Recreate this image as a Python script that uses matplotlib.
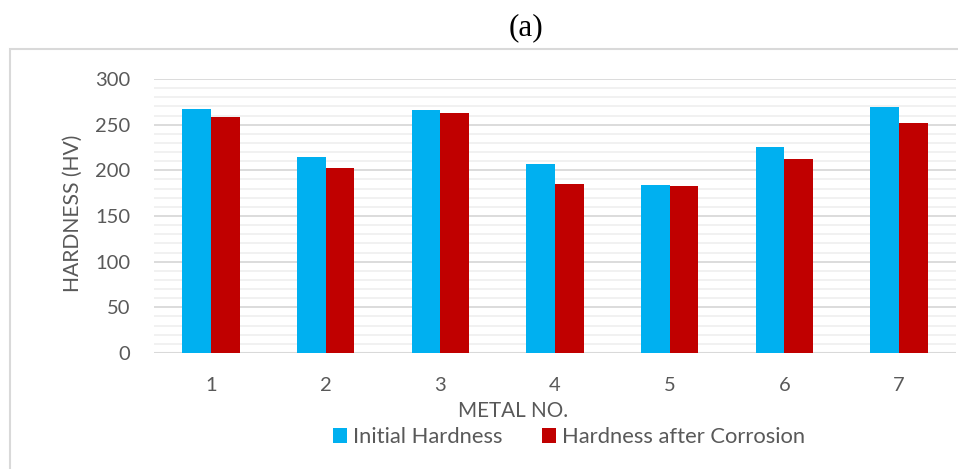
import numpy as np
import matplotlib.pyplot as plt
from matplotlib.patches import Rectangle
from matplotlib.ticker import MultipleLocator

metals = ["1", "2", "3", "4", "5", "6", "7"]
initial = [267, 215, 266, 207, 184, 225, 269]
after_corr = [258, 203, 263, 185, 183, 212, 252]

blue = "#00B0F0"
red = "#C00000"
txt = "#595959"

plt.rcParams['font.family'] = ['Lato', 'DejaVu Sans']

fig = plt.figure(figsize=(9.58, 4.69), dpi=100)
ax = fig.add_axes([153.7/958, 1 - 353/469, (956.3 - 153.7)/958, (353 - 79)/469])

x = np.arange(len(metals))
w = 0.25
ax.bar(x - w/2, initial, w, color=blue, label="Initial Hardness", zorder=3)
ax.bar(x + w/2, after_corr, w, color=red, label="Hardness after Corrosion", zorder=3)

ax.set_xlim(-0.5, len(metals) - 0.5)
ax.set_ylim(0, 300)
ax.yaxis.set_major_locator(MultipleLocator(50))
ax.yaxis.set_minor_locator(MultipleLocator(10))
ax.grid(axis='y', which='major', color='#D9D9D9', lw=1.3, zorder=0)
ax.grid(axis='y', which='minor', color='#F0F0F0', lw=1.3, zorder=0)
for s in ax.spines.values():
    s.set_visible(False)
ax.axhline(0, color='#D9D9D9', lw=1.5, zorder=2)

ax.set_xticks(x)
ax.set_xticklabels(metals)
ax.tick_params(axis='both', which='both', length=0, labelsize=14.5, labelcolor=txt)
ax.tick_params(axis='y', pad=17)
ax.tick_params(axis='x', pad=17)

fig.text(73/958, 1 - 213/469, "HARDNESS (HV)", rotation=90, ha='center', va='center',
         fontsize=15.2, color=txt)
fig.text(513.5/958, 1 - 411/469, "METAL NO.", ha='center', va='center', fontsize=14.9, color=txt)

leg = fig.legend(loc='center', bbox_to_anchor=(569/958, 1 - 437/469), ncol=2, frameon=False,
                 fontsize=15.8, handlelength=0.64, handleheight=0.64, handletextpad=0.27,
                 columnspacing=1.78, borderpad=0)
for t in leg.get_texts():
    t.set_color(txt)

fig.text(526.5/958, 1 - 28/469, "(a)", ha='center', va='center', fontsize=22.5,
         family='Liberation Serif', color='black')

fig.add_artist(Rectangle((10/958, -0.05), 1.0, 1 - 49.5/469 + 0.05, transform=fig.transFigure,
                         fill=False, edgecolor='#D9D9D9', lw=1.5))

fig.savefig("out.png", dpi=100)
